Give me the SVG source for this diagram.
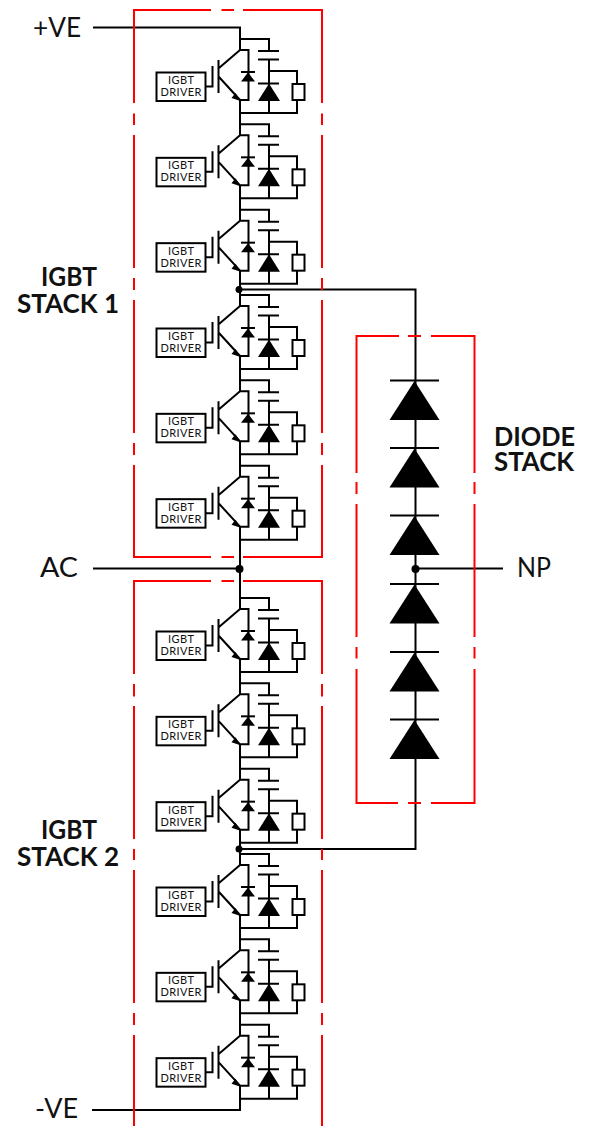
<svg xmlns="http://www.w3.org/2000/svg" xmlns:xlink="http://www.w3.org/1999/xlink" width="592" height="1126" viewBox="0 0 592 1126">
<style>
.w{fill:none;stroke:#000;stroke-width:2}
.r{fill:none;stroke:#f00;stroke-width:2}
.f{fill:#000;stroke:none}
text{font-family:Lato,"Liberation Sans",sans-serif;fill:#111}
.lab{font-size:27px;font-weight:400}
.big{font-size:27px;font-weight:700}
.drv{font-size:11px;font-weight:400}
.box{fill:#fff;stroke:#000;stroke-width:2}
</style>
<defs>
<g id="cell">
<path class="w" d="M240 39H269V51M258 51H279M258 59.500H279M269 59.500V113M269 71H297V84M297 100V113H240M240 50H248.500V100H240M218.500 60V93M212.500 66V86.500H205M219 68L240 50M219 77L240 100M258 83.500H279"/>
<path class="f" d="M240.500 101L235.500 93L231.500 98Z"/>
<path class="f" d="M269 83.500L280 101H258Z"/>
<path class="w" d="M241 72H255"/>
<path class="f" d="M248 72.500L255 81.500H241Z"/>
<rect class="box" x="292.500" y="84" width="12" height="16"/>
<rect class="box" x="156.500" y="72.500" width="49" height="28.500"/>
</g>
<g id="dio">
<path class="w" d="M390 0H439"/>
<path class="f" d="M414.500 0.500L439.500 39.500H389.500Z"/>
</g>
</defs>
<g id="connectors">
<path class="w" d="M93 27.500H240V50M240 100V135.330M240 185.330V220.670M240 270.670V306M240 356V391.330M240 441.330V476.670M240 526.670V609M240 659V694.330M240 744.330V779.670M240 829.670V865M240 915V950.330M240 1000.330V1035.670M240 1085.670V1110H92"/>
<path class="w" d="M93 568.500H240"/>
<path class="w" d="M240 289.500H415.500V849H240"/>
<path class="w" d="M415.500 568.500H503"/>
<circle class="f" cx="239.500" cy="569" r="4"/>
<circle class="f" cx="239" cy="289.500" r="3.500"/>
<circle class="f" cx="239" cy="849" r="3.500"/>
<circle class="f" cx="415.500" cy="569" r="4"/>
</g>
<g id="igbt-stack-1-frame">
<path class="r" d="M211 10H134V103M134 113.500V125M134 135V268M134 278V290M134 300V433M134 443V455M134 465V557H211M221.500 10H234M221.500 557H234M243 10H322V103M322 113.500V125M322 135V268M322 278V290M322 300V433M322 443V455M322 465V557H243"/>
</g>
<g id="igbt-stack-2-frame">
<path class="r" d="M211 581H134V674M134 684V696.500M134 706V839M134 849V860M134 870V1003M134 1013V1025M134 1035V1126M221.500 581H234M243 581H322V674M322 684V696.500M322 706V839M322 849V860M322 870V1003M322 1013V1025M322 1035V1126"/>
</g>
<g id="diode-stack-frame">
<path class="r" d="M399 336H356.500V473M356.500 482V494M356.500 504V637M356.500 647V658.500M356.500 669V803H398M408 336H421M408 803H421M431 336H474.500V473M474.500 482V494M474.500 504V637M474.500 647V658.500M474.500 669V803H431"/>
</g>
<g id="igbt-1"><use href="#cell"/><text class="drv" x="181" y="84" text-anchor="middle" textLength="26">IGBT</text><text class="drv" x="181" y="96" text-anchor="middle" textLength="41">DRIVER</text></g>
<g id="igbt-2" transform="translate(0 85.330)"><use href="#cell"/><text class="drv" x="181" y="84" text-anchor="middle" textLength="26">IGBT</text><text class="drv" x="181" y="96" text-anchor="middle" textLength="41">DRIVER</text></g>
<g id="igbt-3" transform="translate(0 170.670)"><use href="#cell"/><text class="drv" x="181" y="84" text-anchor="middle" textLength="26">IGBT</text><text class="drv" x="181" y="96" text-anchor="middle" textLength="41">DRIVER</text></g>
<g id="igbt-4" transform="translate(0 256)"><use href="#cell"/><text class="drv" x="181" y="84" text-anchor="middle" textLength="26">IGBT</text><text class="drv" x="181" y="96" text-anchor="middle" textLength="41">DRIVER</text></g>
<g id="igbt-5" transform="translate(0 341.330)"><use href="#cell"/><text class="drv" x="181" y="84" text-anchor="middle" textLength="26">IGBT</text><text class="drv" x="181" y="96" text-anchor="middle" textLength="41">DRIVER</text></g>
<g id="igbt-6" transform="translate(0 426.670)"><use href="#cell"/><text class="drv" x="181" y="84" text-anchor="middle" textLength="26">IGBT</text><text class="drv" x="181" y="96" text-anchor="middle" textLength="41">DRIVER</text></g>
<g id="igbt-7" transform="translate(0 559)"><use href="#cell"/><text class="drv" x="181" y="84" text-anchor="middle" textLength="26">IGBT</text><text class="drv" x="181" y="96" text-anchor="middle" textLength="41">DRIVER</text></g>
<g id="igbt-8" transform="translate(0 644.330)"><use href="#cell"/><text class="drv" x="181" y="84" text-anchor="middle" textLength="26">IGBT</text><text class="drv" x="181" y="96" text-anchor="middle" textLength="41">DRIVER</text></g>
<g id="igbt-9" transform="translate(0 729.670)"><use href="#cell"/><text class="drv" x="181" y="84" text-anchor="middle" textLength="26">IGBT</text><text class="drv" x="181" y="96" text-anchor="middle" textLength="41">DRIVER</text></g>
<g id="igbt-10" transform="translate(0 815)"><use href="#cell"/><text class="drv" x="181" y="84" text-anchor="middle" textLength="26">IGBT</text><text class="drv" x="181" y="96" text-anchor="middle" textLength="41">DRIVER</text></g>
<g id="igbt-11" transform="translate(0 900.330)"><use href="#cell"/><text class="drv" x="181" y="84" text-anchor="middle" textLength="26">IGBT</text><text class="drv" x="181" y="96" text-anchor="middle" textLength="41">DRIVER</text></g>
<g id="igbt-12" transform="translate(0 985.670)"><use href="#cell"/><text class="drv" x="181" y="84" text-anchor="middle" textLength="26">IGBT</text><text class="drv" x="181" y="96" text-anchor="middle" textLength="41">DRIVER</text></g>
<g id="diode-1" transform="translate(0 380.500)"><use href="#dio"/></g>
<g id="diode-2" transform="translate(0 448)"><use href="#dio"/></g>
<g id="diode-3" transform="translate(0 515.500)"><use href="#dio"/></g>
<g id="diode-4" transform="translate(0 584)"><use href="#dio"/></g>
<g id="diode-5" transform="translate(0 652)"><use href="#dio"/></g>
<g id="diode-6" transform="translate(0 719.500)"><use href="#dio"/></g>
<g id="labels">
<text class="lab" x="33" y="37" textLength="48" lengthAdjust="spacingAndGlyphs">+VE</text>
<text class="lab" x="40" y="577" textLength="38" lengthAdjust="spacingAndGlyphs">AC</text>
<text class="lab" x="35" y="1118" textLength="43" lengthAdjust="spacingAndGlyphs">-VE</text>
<text class="lab" x="517" y="577" textLength="34" lengthAdjust="spacingAndGlyphs">NP</text>
<text class="big" x="41" y="286" textLength="56" lengthAdjust="spacingAndGlyphs">IGBT</text>
<text class="big" x="17" y="313" textLength="102" lengthAdjust="spacingAndGlyphs">STACK 1</text>
<text class="big" x="41" y="839" textLength="56" lengthAdjust="spacingAndGlyphs">IGBT</text>
<text class="big" x="17" y="866" textLength="102" lengthAdjust="spacingAndGlyphs">STACK 2</text>
<text class="big" x="494" y="446" textLength="81" lengthAdjust="spacingAndGlyphs">DIODE</text>
<text class="big" x="494" y="471" textLength="80" lengthAdjust="spacingAndGlyphs">STACK</text>
</g>
</svg>
